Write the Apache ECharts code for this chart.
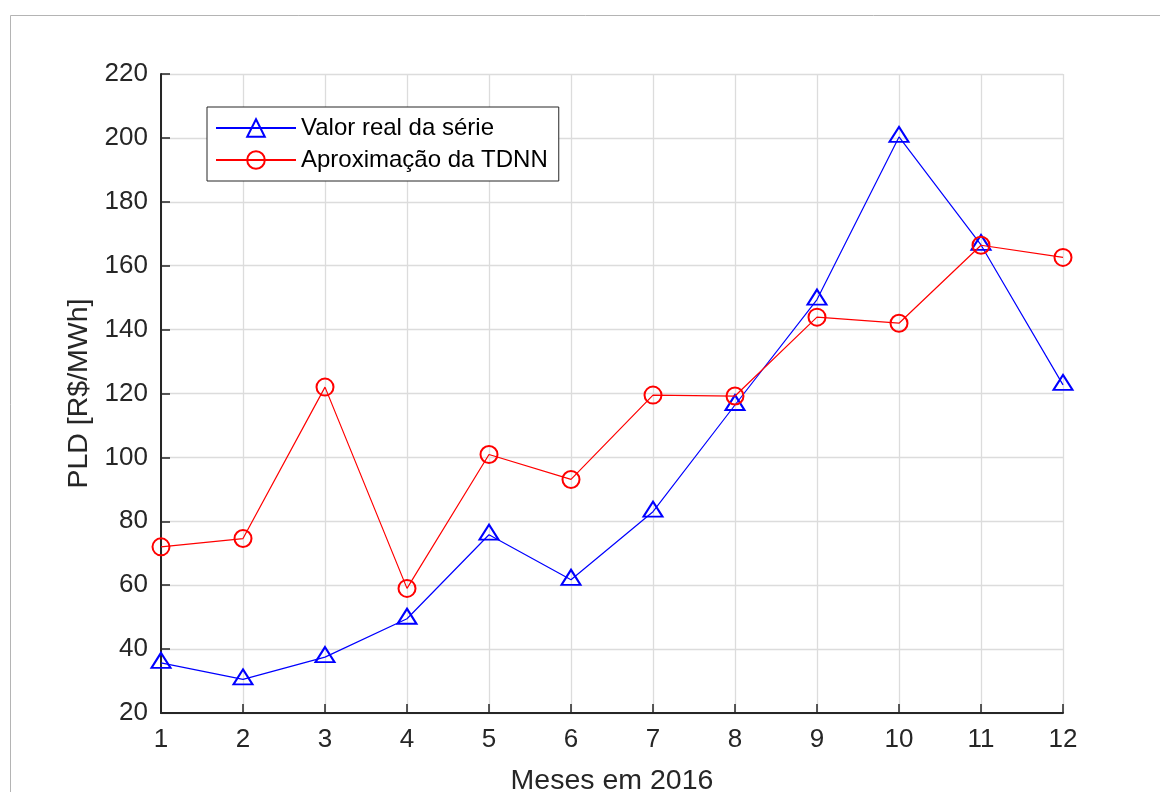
<!DOCTYPE html>
<html>
<head>
<meta charset="utf-8">
<script src="https://cdn.jsdelivr.net/npm/echarts@6/dist/echarts.min.js"></script>
<style>
  html, body { margin: 0; padding: 0; background: #ffffff; }
  #chart { width: 1160px; height: 792px; }
</style>
</head>
<body>
<div id="chart"></div>
<script>
// Meses de 2016 e valores do PLD [R$/MWh]
const months = [1, 2, 3, 4, 5, 6, 7, 8, 9, 10, 11, 12];
const valorReal = [35.7, 30.5, 37.5, 49.5, 75.8, 61.7, 83.0, 116.4, 149.4, 200.3, 166.5, 122.7];
const aproxTDNN = [72.0, 74.6, 122.0, 59.0, 100.9, 93.1, 119.5, 119.2, 143.9, 142.0, 166.4, 162.6];
const seriesNames = ['Valor real da série', 'Aproximação da TDNN'];
const xTitle = 'Meses em 2016';
const yTitle = 'PLD [R$/MWh]';

const FONT = '"Liberation Sans", Arial, Helvetica, sans-serif';
const AXIS_COLOR = '#262626';
const GRID_COLOR = '#dcdcdc';

const toPairs = (vals) => months.map((m, i) => [m, vals[i]]);

const chart = echarts.init(document.getElementById('chart'), null, { renderer: 'canvas' });

const axisCommon = {
  type: 'value',
  nameLocation: 'middle',
  nameTextStyle: { fontFamily: FONT, fontSize: 28.5, color: AXIS_COLOR },
  axisLine: { show: true, onZero: false, lineStyle: { color: AXIS_COLOR, width: 2 } },
  axisTick: { show: true, inside: true, length: 9, lineStyle: { color: AXIS_COLOR, width: 1.5 } },
  axisLabel: { fontFamily: FONT, fontSize: 26, color: AXIS_COLOR },
  splitLine: { show: true, lineStyle: { color: GRID_COLOR, width: 1.3 } }
};

chart.setOption({
  animation: false,
  backgroundColor: '#ffffff',
  graphic: [{
    type: 'rect',
    silent: true,
    z: -10,
    shape: { x: 10.5, y: 15.5, width: 1400, height: 1000 },
    style: { fill: 'none', stroke: '#b4b4b4', lineWidth: 1 }
  }],
  grid: { left: 161, right: 97, top: 74, bottom: 79, containLabel: false, outerBoundsMode: 'none' },
  xAxis: Object.assign({}, axisCommon, {
    name: xTitle,
    nameGap: 54,
    min: 1, max: 12, interval: 1,
    axisLabel: Object.assign({}, axisCommon.axisLabel, { margin: 14 })
  }),
  yAxis: Object.assign({}, axisCommon, {
    name: yTitle,
    nameGap: 67,
    min: 20, max: 220, interval: 20,
    axisLabel: Object.assign({}, axisCommon.axisLabel, { margin: 13 })
  }),
  legend: {
    orient: 'vertical',
    left: 207,
    top: 107,
    padding: [9, 11, 9, 8],
    itemWidth: 80,
    itemHeight: 22,
    itemGap: 8,
    borderColor: AXIS_COLOR,
    borderWidth: 1,
    backgroundColor: '#ffffff',
    textStyle: { fontFamily: FONT, fontSize: 24, color: '#000000' },
    data: seriesNames
  },
  series: [
    {
      name: seriesNames[0],
      type: 'line',
      data: toPairs(valorReal),
      symbol: 'triangle',
      symbolSize: [19, 15],
      symbolOffset: [0, -2.5],
      showAllSymbol: true,
      lineStyle: { color: '#0000ff', width: 1.2 },
      itemStyle: { color: 'rgba(0,0,0,0)', borderColor: '#0000ff', borderWidth: 2 },
      z: 3
    },
    {
      name: seriesNames[1],
      type: 'line',
      data: toPairs(aproxTDNN),
      symbol: 'circle',
      symbolSize: 17,
      showAllSymbol: true,
      lineStyle: { color: '#ff0000', width: 1.2 },
      itemStyle: { color: 'rgba(0,0,0,0)', borderColor: '#ff0000', borderWidth: 2 },
      z: 4
    }
  ]
});
</script>
</body>
</html>
